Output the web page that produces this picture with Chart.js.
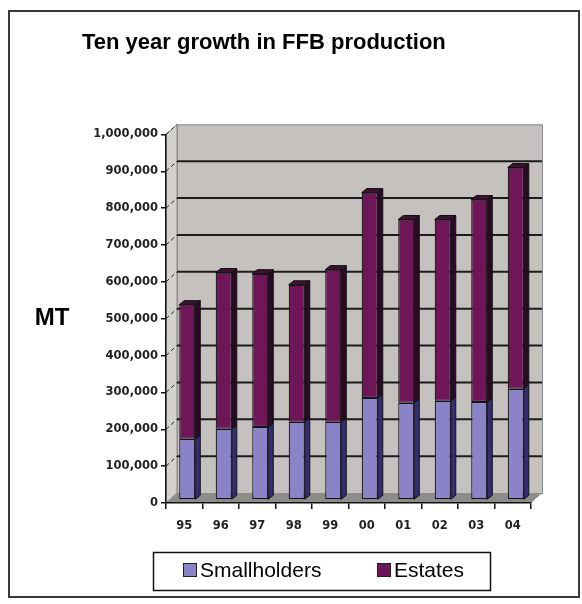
<!DOCTYPE html>
<html>
<head>
<meta charset="utf-8">
<script src="https://cdn.jsdelivr.net/npm/chart.js@4.4.1/dist/chart.umd.min.js"></script>
<style>
  html, body { margin: 0; padding: 0; background: #fff; }
</style>
</head>
<body>
<canvas id="ffb" width="582" height="604"></canvas>
<script>
// FFB production by year, metric tonnes
const years = ['95', '96', '97', '98', '99', '00', '01', '02', '03', '04'];
const smallholders = [166000, 193000, 198000, 212000, 212000, 277000, 264000, 269000, 266000, 302000];
const estates = [364000, 424000, 416000, 372000, 413000, 557000, 497000, 492000, 549000, 600000];
const seriesNames = ['Smallholders', 'Estates'];
const seriesColors = ['#8a83c8', '#6e1658'];
const sideColors = ['#342e70', '#2a0a24'];
const topColor = '#3c1234';

// fake 3D: wall depth and the offset of the bars inside the box
const WALL = { dx: 11, dy: -10 };
const BAR_SHIFT = { dx: 3, dy: -3 };
const BAR_DEPTH = { dx: 5, dy: -4 };

const tickFont = { family: 'DejaVu Sans, sans-serif', weight: 'bold', size: 11.5 };

const box3d = {
  id: 'box3d',
  beforeDraw(chart) {
    const ctx = chart.ctx;
    const { left, right, top, bottom } = chart.chartArea;
    const yScale = chart.scales.y;
    ctx.save();
    ctx.fillStyle = '#fff';
    ctx.fillRect(0, 0, chart.width, chart.height);

    // outer frame
    ctx.strokeStyle = '#3a3a3a';
    ctx.lineWidth = 2;
    ctx.strokeRect(9, 11, 570, 586);

    // side wall
    ctx.fillStyle = '#d3d1ce';
    ctx.beginPath();
    ctx.moveTo(left, top);
    ctx.lineTo(left + WALL.dx, top + WALL.dy);
    ctx.lineTo(left + WALL.dx, bottom + WALL.dy);
    ctx.lineTo(left, bottom);
    ctx.closePath();
    ctx.fill();
    ctx.strokeStyle = '#8c8c8c';
    ctx.lineWidth = 1;
    ctx.stroke();

    // back wall
    ctx.fillStyle = '#c4c1be';
    ctx.fillRect(left + WALL.dx, top + WALL.dy, right - left, bottom - top);
    ctx.strokeRect(left + WALL.dx + 0.5, top + WALL.dy + 0.5, right - left, bottom - top);

    // floor
    ctx.fillStyle = '#8e8c8a';
    ctx.beginPath();
    ctx.moveTo(left, bottom);
    ctx.lineTo(right, bottom);
    ctx.lineTo(right + WALL.dx, bottom + WALL.dy);
    ctx.lineTo(left + WALL.dx, bottom + WALL.dy);
    ctx.closePath();
    ctx.fill();

    // gridlines on the back wall and the little diagonals from each tick
    yScale.ticks.forEach(t => {
      const y = yScale.getPixelForValue(t.value);
      if (t.value > 0 && t.value < yScale.max) {
        ctx.strokeStyle = '#1c1c1c';
        ctx.lineWidth = 2;
        ctx.beginPath();
        ctx.moveTo(left + WALL.dx, y + WALL.dy);
        ctx.lineTo(right + WALL.dx, y + WALL.dy);
        ctx.stroke();
      }
      if (t.value > 0) {
        ctx.strokeStyle = '#222';
        ctx.lineWidth = 1;
        ctx.setLineDash([4, 3]);
        ctx.beginPath();
        ctx.moveTo(left, y);
        ctx.lineTo(left + WALL.dx, y + WALL.dy);
        ctx.stroke();
        ctx.setLineDash([]);
      }
    });

    // horizontal axis label
    ctx.fillStyle = '#000';
    ctx.font = 'bold 24px "Liberation Sans", Arial, sans-serif';
    ctx.textAlign = 'center';
    ctx.textBaseline = 'middle';
    ctx.fillText('MT', 52, 318);
    ctx.restore();
  },
  beforeDatasetsDraw(chart) {
    chart.ctx.save();
    chart.ctx.translate(BAR_SHIFT.dx, BAR_SHIFT.dy);
  },
  afterDatasetsDraw(chart) {
    const ctx = chart.ctx;
    const last = chart.data.datasets.length - 1;
    chart.data.datasets.forEach((ds, i) => {
      chart.getDatasetMeta(i).data.forEach(bar => {
        const { x, y, base, width } = bar.getProps(['x', 'y', 'base', 'width'], true);
        const l = x - width / 2, r = x + width / 2;
        const t = Math.min(y, base), b = Math.max(y, base);
        ctx.strokeStyle = '#111';
        ctx.lineWidth = 1;
        ctx.fillStyle = sideColors[i];
        ctx.beginPath();
        ctx.moveTo(r, t);
        ctx.lineTo(r + BAR_DEPTH.dx, t + BAR_DEPTH.dy);
        ctx.lineTo(r + BAR_DEPTH.dx, b + BAR_DEPTH.dy);
        ctx.lineTo(r, b);
        ctx.closePath();
        ctx.fill();
        ctx.stroke();
        if (i === last) {
          ctx.fillStyle = topColor;
          ctx.beginPath();
          ctx.moveTo(l, t);
          ctx.lineTo(l + BAR_DEPTH.dx, t + BAR_DEPTH.dy);
          ctx.lineTo(r + BAR_DEPTH.dx, t + BAR_DEPTH.dy);
          ctx.lineTo(r, t);
          ctx.closePath();
          ctx.fill();
          ctx.stroke();
        }
      });
    });
    ctx.restore();
  },
  afterDraw(chart) {
    // legend box below the axis
    const ctx = chart.ctx;
    ctx.save();
    ctx.strokeStyle = '#111';
    ctx.lineWidth = 1.5;
    ctx.strokeRect(153.5, 552.5, 337, 38);
    const xs = [183, 377];
    ctx.font = '21px "Liberation Sans", Arial, sans-serif';
    ctx.textBaseline = 'middle';
    ctx.textAlign = 'left';
    chart.data.datasets.forEach((ds, i) => {
      ctx.fillStyle = ds.backgroundColor;
      ctx.fillRect(xs[i], 563, 14, 14);
      ctx.lineWidth = 1;
      ctx.strokeStyle = '#222';
      ctx.strokeRect(xs[i] + 0.5, 563.5, 13, 13);
      ctx.fillStyle = '#000';
      ctx.fillText(ds.label, xs[i] + 17, 571);
    });
    ctx.restore();
  }
};

new Chart(document.getElementById('ffb'), {
  type: 'bar',
  data: {
    labels: years,
    datasets: [
      { label: seriesNames[0], data: smallholders, backgroundColor: seriesColors[0] },
      { label: seriesNames[1], data: estates, backgroundColor: seriesColors[1] }
    ]
  },
  options: {
    responsive: false,
    animation: false,
    layout: { padding: { left: 82, right: 51, top: 0, bottom: 71 } },
    datasets: {
      bar: {
        categoryPercentage: 1,
        barPercentage: 0.44,
        borderColor: '#151515',
        borderWidth: 1.2,
        borderSkipped: false
      }
    },
    scales: {
      x: {
        stacked: true,
        grid: { drawOnChartArea: false, tickLength: 6, color: '#111', lineWidth: 1.5 },
        border: { color: '#111', width: 1.5 },
        ticks: { font: tickFont, color: '#222', padding: 10 },
        afterFit: s => { s.height = 30; }
      },
      y: {
        stacked: true,
        min: 0,
        max: 1000000,
        grid: { drawOnChartArea: false, tickLength: 5, color: '#111', lineWidth: 1.5 },
        border: { color: '#111', width: 1.5 },
        ticks: {
          stepSize: 100000,
          font: tickFont,
          color: '#222',
          padding: 3,
          callback: v => v.toLocaleString('en-US')
        },
        afterFit: s => { s.width = 84; }
      }
    },
    plugins: {
      legend: { display: false },
      tooltip: { enabled: false },
      title: {
        display: true,
        text: 'Ten year growth in FFB production',
        align: 'start',
        color: '#000',
        font: { family: '"Liberation Sans", Arial, sans-serif', size: 22, weight: 'bold' },
        padding: { top: 30, bottom: 78 }
      }
    }
  },
  plugins: [box3d]
});
</script>
</body>
</html>
